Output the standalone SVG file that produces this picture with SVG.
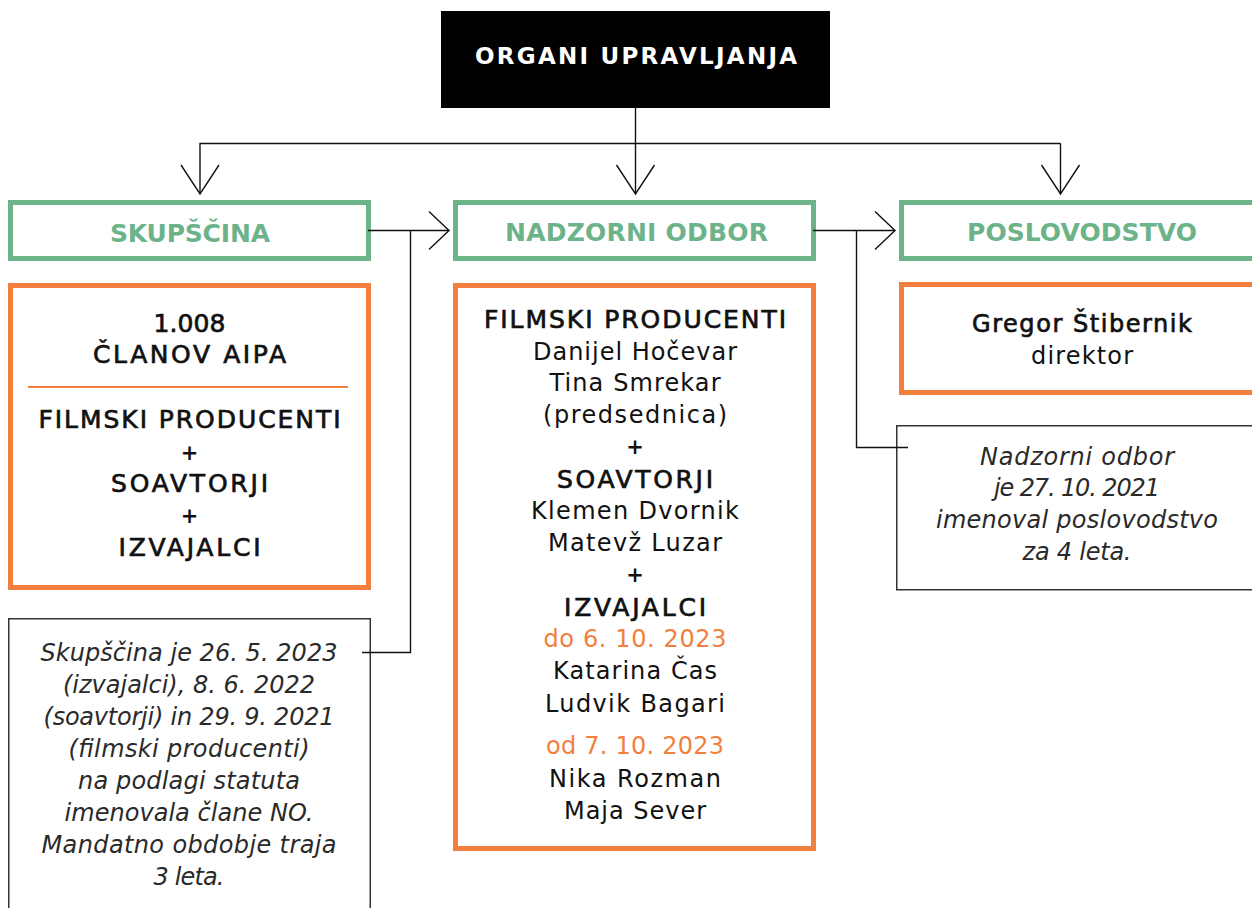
<svg xmlns="http://www.w3.org/2000/svg" width="1252" height="908" viewBox="0 0 1252 908">
<defs>
<style>
text { font-family: "DejaVu Sans", "Liberation Sans", Arial, sans-serif; text-anchor: middle; }
.title { font-size: 23px; font-weight: 700; fill: #ffffff; }
.head { font-size: 25px; font-weight: 700; fill: #6db38a; }
.green { fill: #ffffff; stroke: #6db38a; stroke-width: 5; }
.orange { fill: #ffffff; stroke: #f27f3d; stroke-width: 5; }
.note { fill: #ffffff; stroke: #333333; stroke-width: 1.5; }
.med { font-size: 24px; font-weight: 400; fill: #111111; stroke: #111111; stroke-width: 0.7; }
.caps { font-size: 25px; }
.plus { font-size: 21px; font-weight: 700; fill: #111111; }
.reg { font-size: 24px; font-weight: 400; fill: #111111; }
.date { font-size: 24px; font-weight: 400; fill: #f27f3d; }
.it { font-size: 24px; font-style: italic; font-weight: 200; fill: #2a2a2a; }
.conn { fill: none; stroke: #111111; stroke-width: 1.4; }
.divider { stroke: #f27f3d; stroke-width: 2; }
</style>
<marker id="arrDown" markerUnits="userSpaceOnUse" orient="auto" viewBox="-31 -21 33 42" markerWidth="33" markerHeight="42" refX="0" refY="0">
<path d="M -29 -19 L 0 0 L -29 19" fill="none" stroke="#111111" stroke-width="1.4"/>
</marker>
<marker id="arrRight" markerUnits="userSpaceOnUse" orient="auto" viewBox="-22 -21 24 42" markerWidth="24" markerHeight="42" refX="0" refY="0">
<path d="M -20 -19 L 0 0 L -20 19" fill="none" stroke="#111111" stroke-width="1.4"/>
</marker>
</defs>
<rect width="1252" height="908" fill="#ffffff"/>

<g id="organi-upravljanja">
<rect x="441" y="11" width="389" height="97" fill="#000000"/>
<text class="title" x="636" y="63.5" textLength="322">ORGANI UPRAVLJANJA</text>
</g>

<g id="skupscina">
<rect class="green" x="10.5" y="202.5" width="358" height="56"/>
<text class="head" x="190" y="242" textLength="160">SKUPŠČINA</text>
</g>

<g id="nadzorni-odbor">
<rect class="green" x="455.5" y="202.5" width="358" height="56"/>
<text class="head" x="636.5" y="241" textLength="263">NADZORNI ODBOR</text>
</g>

<g id="poslovodstvo">
<rect class="green" x="901.5" y="202.5" width="400" height="56"/>
<text class="head" x="1082" y="241" textLength="230">POSLOVODSTVO</text>
</g>

<g id="skupscina-clani">
<rect class="orange" x="10.5" y="285.5" width="358" height="302"/>
<text class="med caps" x="189.5" y="332" textLength="72">1.008</text>
<text class="med caps" x="189.5" y="363" textLength="193">ČLANOV AIPA</text>
<line class="divider" x1="28" y1="387" x2="348" y2="387"/>
<text class="med caps" x="189.5" y="428" textLength="302">FILMSKI PRODUCENTI</text>
<text class="plus" x="189.5" y="460">+</text>
<text class="med caps" x="189.5" y="492" textLength="157">SOAVTORJI</text>
<text class="plus" x="189.5" y="523">+</text>
<text class="med caps" x="189.5" y="556" textLength="142">IZVAJALCI</text>
</g>

<g id="nadzorni-odbor-clani">
<rect class="orange" x="455.5" y="285.5" width="358" height="563"/>
<text class="med caps" x="635" y="328" textLength="302">FILMSKI PRODUCENTI</text>
<text class="reg" x="635" y="360" textLength="204">Danijel Hočevar</text>
<text class="reg" x="635" y="391" textLength="171">Tina Smrekar</text>
<text class="reg" x="635" y="423" textLength="184">(predsednica)</text>
<text class="plus" x="635" y="454">+</text>
<text class="med caps" x="635" y="488" textLength="156">SOAVTORJI</text>
<text class="reg" x="635" y="519" textLength="208">Klemen Dvornik</text>
<text class="reg" x="635" y="551" textLength="174">Matevž Luzar</text>
<text class="plus" x="635" y="582">+</text>
<text class="med caps" x="635" y="616" textLength="142">IZVAJALCI</text>
<text class="date" x="635" y="647" textLength="183">do 6. 10. 2023</text>
<text class="reg" x="635" y="679" textLength="164">Katarina Čas</text>
<text class="reg" x="635" y="712" textLength="180">Ludvik Bagari</text>
<text class="date" x="635" y="754" textLength="178">od 7. 10. 2023</text>
<text class="reg" x="635" y="787" textLength="172">Nika Rozman</text>
<text class="reg" x="635" y="819" textLength="142">Maja Sever</text>
</g>

<g id="poslovodstvo-direktor">
<rect class="orange" x="901.5" y="284.5" width="400" height="108"/>
<text class="med" x="1082" y="332" textLength="220">Gregor Štibernik</text>
<text class="reg" x="1082" y="364" textLength="102">direktor</text>
</g>

<g id="opomba-skupscina">
<rect class="note" x="8.75" y="618.75" width="361.5" height="310"/>
<text class="it" x="189" y="661" textLength="297">Skupščina je 26. 5. 2023</text>
<text class="it" x="189" y="693" textLength="252">(izvajalci), 8. 6. 2022</text>
<text class="it" x="189" y="725" textLength="291">(soavtorji) in 29. 9. 2021</text>
<text class="it" x="189" y="757" textLength="241">(filmski producenti)</text>
<text class="it" x="189" y="789" textLength="222">na podlagi statuta</text>
<text class="it" x="189" y="821" textLength="249">imenovala člane NO.</text>
<text class="it" x="189" y="853" textLength="295">Mandatno obdobje traja</text>
<text class="it" x="189" y="885" textLength="71">3 leta.</text>
</g>

<g id="opomba-nadzorni-odbor">
<rect class="note" x="896.75" y="425.75" width="380" height="164"/>
<text class="it" x="1077" y="465" textLength="194">Nadzorni odbor</text>
<text class="it" x="1077" y="496" textLength="166">je 27. 10. 2021</text>
<text class="it" x="1077" y="528" textLength="282">imenoval poslovodstvo</text>
<text class="it" x="1077" y="560" textLength="109">za 4 leta.</text>
</g>

<g id="connectors">
<path class="conn" d="M 635.5 108 V 143.5"/>
<path class="conn" d="M 199.5 143.5 H 1060.5"/>
<path class="conn" d="M 200 143.5 V 194" marker-end="url(#arrDown)"/>
<path class="conn" d="M 635.5 143.5 V 194" marker-end="url(#arrDown)"/>
<path class="conn" d="M 1060.5 143.5 V 194" marker-end="url(#arrDown)"/>
<path class="conn" d="M 368 230.5 H 449" marker-end="url(#arrRight)"/>
<path class="conn" d="M 362 652.5 H 410.5 V 230.5"/>
<path class="conn" d="M 813 230.5 H 895" marker-end="url(#arrRight)"/>
<path class="conn" d="M 856.5 230.5 V 447.5 H 908"/>
</g>
</svg>
